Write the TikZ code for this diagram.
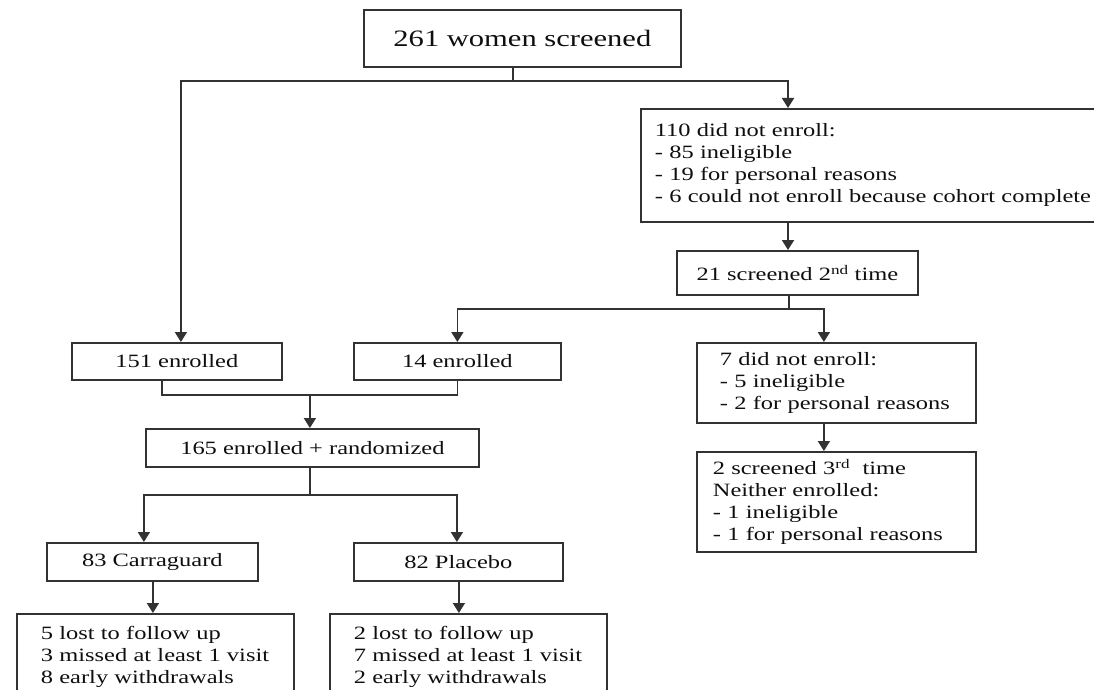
\documentclass[tikz,border=0pt]{standalone}
\usepackage{fontspec}
\setmainfont{Liberation Serif}[FakeStretch=1.3]
\usetikzlibrary{arrows.meta}
\definecolor{ln}{RGB}{50,50,50}
\definecolor{tx}{RGB}{15,15,15}
\begin{document}
\begin{tikzpicture}[x=1pt,y=-1pt,
  box/.style={draw=ln, line width=1.8pt, rectangle, anchor=north west, inner sep=0pt, text=tx, font=\fontsize{18.8}{22}\selectfont},
  lbox/.style={box, align=left},
  conn/.style={draw=ln, line width=1.8pt},
  arr/.style={conn, -{Triangle[width=12pt,length=10pt]}}]
\fill[white] (0,0) rectangle (1094,690);
\clip (0,0) rectangle (1094,690);

\node[box, minimum width=317pt, minimum height=57pt, font=\fontsize{23.5}{28}\selectfont] (top) at (363,9) {261 women screened};
\node[lbox, minimum height=113pt, text width=460pt, inner xsep=14pt] (n110) at (640,108) {110 did not enroll:\\- 85 ineligible\\- 19 for personal reasons\\\mbox{- 6 could not enroll because cohort complete}};
\node[box, minimum width=241pt, minimum height=44pt] (n21) at (676,250) {21 screened 2\textsuperscript{nd} time};
\node[box, minimum width=210pt, minimum height=37pt] (e151) at (71,342) {151 enrolled};
\node[box, minimum width=207pt, minimum height=37pt] (e14) at (353,342) {14 enrolled};
\node[lbox, minimum height=80pt, text width=233pt, inner xsep=23pt] (n7) at (696,342) {7 did not enroll:\\- 5 ineligible\\\mbox{- 2 for personal reasons}};
\node[lbox, minimum height=100pt, text width=247pt, inner xsep=16pt] (n2s) at (696,451) {2 screened 3\textsuperscript{rd}~ time\\Neither enrolled:\\- 1 ineligible\\\mbox{- 1 for personal reasons}};
\node[box, minimum width=333pt, minimum height=38pt] (n165) at (145,428) {165 enrolled + randomized};
\node[box, minimum width=211pt, minimum height=38pt] (carr) at (46,542) {83 Carraguard};
\node[box, minimum width=209pt, minimum height=38pt] (plac) at (353,542) {82 Placebo};
\node[lbox, minimum height=87pt, text width=229pt, inner xsep=24pt] (n5) at (16,613) {5 lost to follow up\\\mbox{3 missed at least 1 visit}\\8 early withdrawals};
\node[lbox, minimum height=87pt, text width=229pt, inner xsep=24pt] (n2l) at (329,613) {2 lost to follow up\\\mbox{7 missed at least 1 visit}\\2 early withdrawals};

% top -> 151 enrolled, 110 did not enroll
\draw[conn] ([xshift=-9.5pt]top.south) -- ++(0,13) coordinate (j1);
\draw[arr] (j1) -| ([xshift=4pt]e151.north);
\draw[arr] (j1) -| ([xshift=148pt]n110.north west);
% 110 -> 21
\coordinate (a110) at ([xshift=148pt]n110.south west);
\draw[arr] (a110) -- (a110 |- n21.north);
% 21 -> 14 enrolled, 7 did not enroll
\draw[conn] ([xshift=-8.5pt]n21.south) -- ++(0,13) coordinate (j2);
\draw[arr] (j2) -| (e14.north);
\draw[arr] (j2) -| ([xshift=-12.5pt]n7.north);
% 7 -> 2 screened
\coordinate (s7) at ([xshift=-12.5pt]n7.south);
\draw[arr] (s7) -- (s7 |- n2s.north);
% 151 + 14 -> 165
\draw[conn] ([xshift=-15pt]e151.south) -- ++(0,14) coordinate (hb) -| (e14.south);
\coordinate (c165) at ([xshift=-2.5pt]n165.north);
\draw[arr] (c165 |- hb) -- (c165);
% 165 -> Carraguard, Placebo
\draw[conn] ([xshift=-2.5pt]n165.south) -- ++(0,27) coordinate (j4);
\draw[arr] (j4) -| ([xshift=-8.5pt]carr.north);
\draw[arr] (j4) -| ([xshift=-1.5pt]plac.north);
% Carraguard -> outcomes, Placebo -> outcomes
\coordinate (sc) at ([xshift=0.5pt]carr.south);
\draw[arr] (sc) -- (sc |- n5.north);
\coordinate (sp) at ([xshift=0.5pt]plac.south);
\draw[arr] (sp) -- (sp |- n2l.north);
\end{tikzpicture}
\end{document}
